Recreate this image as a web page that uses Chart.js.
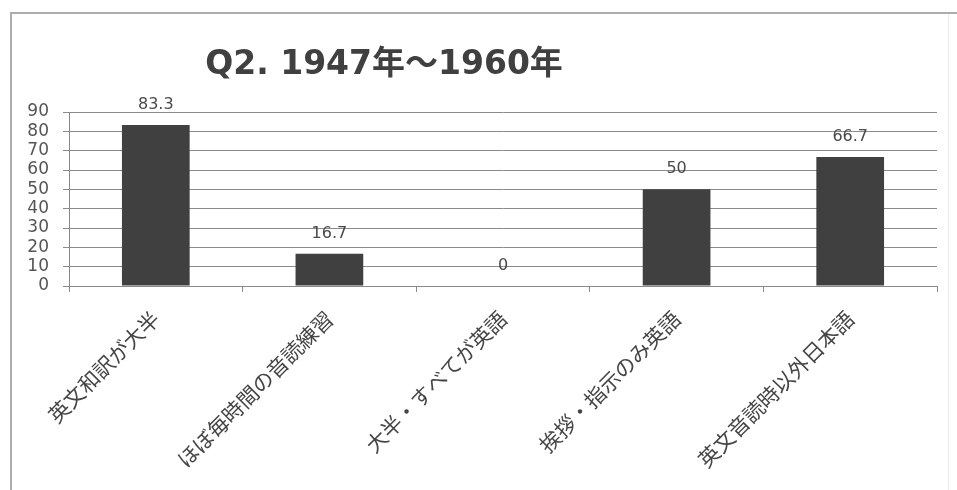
<!DOCTYPE html>
<html lang="ja">
<head>
<meta charset="utf-8">
<title>Q2. 1947年～1960年</title>
<script src="https://cdn.jsdelivr.net/npm/chart.js@4.4.1/dist/chart.umd.min.js"></script>
<style>
  html, body { margin: 0; padding: 0; background: #ffffff; }
  #wrap { position: relative; width: 957px; height: 490px; }
  canvas { display: block; }
</style>
</head>
<body>
<div id="wrap"><canvas id="chart" width="957" height="490"></canvas></div>
<script>
// Survey answers (percent of respondents), Q2: 1947–1960
const titleText = 'Q2. 1947年～1960年';
const categories = [
  '英文和訳が大半',
  'ほぼ毎時間の音読練習',
  '大半・すべてが英語',
  '挨拶・指示のみ英語',
  '英文音読時以外日本語'
];
const values = [83.3, 16.7, 0, 50, 66.7];
const valueLabels = ['83.3', '16.7', '0', '50', '66.7'];
const yTickValues = [0, 10, 20, 30, 40, 50, 60, 70, 80, 90];

const LATIN = "'DejaVu Sans', 'Noto Sans CJK JP', sans-serif";
const CJK = "'Noto Sans CJK JP', 'DejaVu Sans', sans-serif";

// Outer frame and the chart heading
const framePlugin = {
  id: 'frame',
  beforeDraw(chart) {
    const ctx = chart.ctx;
    ctx.save();
    ctx.fillStyle = '#ffffff';
    ctx.fillRect(0, 0, chart.width, chart.height);
    // top and left edges of the frame
    ctx.strokeStyle = '#adadad';
    ctx.lineWidth = 2;
    ctx.beginPath();
    ctx.moveTo(10, 13);
    ctx.lineTo(chart.width, 13);
    ctx.moveTo(11, 12);
    ctx.lineTo(11, chart.height);
    ctx.stroke();
    // faint right edge
    ctx.strokeStyle = '#ececec';
    ctx.lineWidth = 1;
    ctx.beginPath();
    ctx.moveTo(948.5, 14);
    ctx.lineTo(948.5, chart.height);
    ctx.stroke();
    ctx.restore();
  },
  afterDraw(chart) {
    const ctx = chart.ctx;
    ctx.save();
    ctx.font = 'bold 33px ' + LATIN;
    ctx.fillStyle = '#404040';
    ctx.textAlign = 'center';
    ctx.textBaseline = 'alphabetic';
    ctx.fillText(titleText, 384, 74);
    ctx.restore();
  }
};

// Value printed above each bar
const valueLabelPlugin = {
  id: 'valueLabels',
  afterDatasetsDraw(chart) {
    const ctx = chart.ctx;
    const meta = chart.getDatasetMeta(0);
    ctx.save();
    ctx.font = '16px ' + LATIN;
    ctx.fillStyle = '#4a4a4a';
    ctx.textAlign = 'center';
    ctx.textBaseline = 'alphabetic';
    meta.data.forEach((bar, i) => {
      ctx.fillText(valueLabels[i], bar.x, bar.y - 16);
    });
    ctx.restore();
  }
};

new Chart(document.getElementById('chart'), {
  type: 'bar',
  data: {
    labels: categories,
    datasets: [{
      data: values,
      backgroundColor: '#404040',
      borderWidth: 0,
      barPercentage: 0.39,
      categoryPercentage: 1.0
    }]
  },
  options: {
    responsive: false,
    animation: false,
    devicePixelRatio: 1,
    layout: { padding: { top: 112, right: 20, left: 0, bottom: 0 } },
    plugins: {
      legend: { display: false },
      title: { display: false },
      tooltip: { enabled: false }
    },
    scales: {
      x: {
        offset: true,
        grid: {
          offset: true,
          drawOnChartArea: false,
          drawTicks: true,
          tickLength: 6,
          color: '#8a8a8a'
        },
        border: { display: true, color: '#8a8a8a', width: 1 },
        ticks: {
          autoSkip: false,
          maxRotation: 45,
          minRotation: 45,
          padding: 14,
          color: '#454545',
          font: { family: CJK, size: 21 }
        },
        afterFit(scale) { scale.height = 204; }
      },
      y: {
        min: 0,
        max: 90,
        afterBuildTicks(scale) {
          scale.ticks = yTickValues.map(v => ({ value: v }));
        },
        grid: {
          drawTicks: true,
          tickLength: 6,
          color: '#8a8a8a',
          lineWidth: 1
        },
        border: { display: true, color: '#8a8a8a', width: 1 },
        ticks: {
          autoSkip: false,
          padding: 14,
          color: '#555555',
          font: { family: LATIN, size: 17 }
        },
        afterFit(scale) { scale.width = 69; }
      }
    }
  },
  plugins: [framePlugin, valueLabelPlugin]
});
</script>
</body>
</html>
